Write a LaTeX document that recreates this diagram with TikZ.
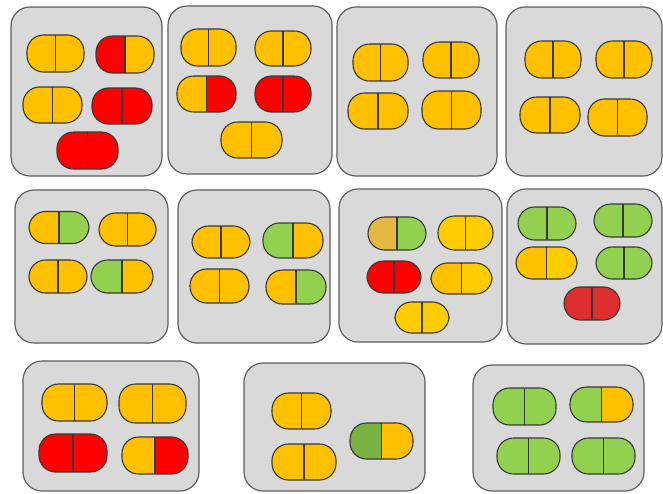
\documentclass[tikz,border=0pt]{standalone}
\usepackage{tikz}

\definecolor{trayfill}{HTML}{D9D9D9}
\definecolor{trayline}{HTML}{5E5E5E}
\definecolor{pillline}{HTML}{383838}
\definecolor{amber}{HTML}{FFC000}
\definecolor{gold}{HTML}{FFCC00}
\definecolor{mustard}{HTML}{E4B83E}
\definecolor{scarlet}{HTML}{FF0000}
\definecolor{brick}{HTML}{DC2E2E}
\definecolor{leaf}{HTML}{92D050}
\definecolor{moss}{HTML}{78B242}

\tikzset{
  tray/.style={fill=trayfill, draw=trayline, line width=1.2pt, rounded corners=19pt},
  pillrim/.style={draw=pillline, line width=1.1pt, rounded corners=16.5pt},
  pillcut/.style={draw=pillline, line width=1.1pt}
}

% \capsule{cx}{cy}{w}{h}{left colour}{right colour}
\newcommand{\capsule}[6]{%
  \begin{scope}
    \clip[rounded corners=16.5pt] ({#1-#3/2},{#2-#4/2}) rectangle ({#1+#3/2},{#2+#4/2});
    \fill[#5] ({#1-#3/2},{#2-#4/2}) rectangle (#1,{#2+#4/2});
    \fill[#6] (#1,{#2-#4/2}) rectangle ({#1+#3/2},{#2+#4/2});
  \end{scope}
  \draw[pillrim] ({#1-#3/2},{#2-#4/2}) rectangle ({#1+#3/2},{#2+#4/2});
  \draw[pillcut] (#1,{#2-#4/2}) -- (#1,{#2+#4/2});
}

\begin{document}
\begin{tikzpicture}[x=1pt, y=-1pt]
  \useasboundingbox (0,0) rectangle (663,493);

  % top row
  \draw[tray] (11,7) rectangle (162,176);
  \capsule{55.5}{53.5}{57}{37}{amber}{amber}
  \capsule{125}{54.5}{58}{37}{scarlet}{amber}
  \capsule{52.5}{105}{59}{36}{amber}{amber}
  \capsule{122}{106}{60}{36}{scarlet}{scarlet}
  \capsule{87.5}{150.5}{61}{37}{scarlet}{scarlet}

  \draw[tray] (168,6) rectangle (332,174);
  \capsule{208.5}{47.5}{55}{37}{amber}{amber}
  \capsule{283}{48.5}{56}{35}{amber}{amber}
  \capsule{206.5}{94}{59}{36}{amber}{scarlet}
  \capsule{283}{94}{56}{36}{scarlet}{scarlet}
  \capsule{251.5}{140}{61}{36}{amber}{amber}

  \draw[tray] (337,7) rectangle (497,176);
  \capsule{380.5}{62.5}{55}{37}{amber}{amber}
  \capsule{451}{60}{56}{36}{amber}{amber}
  \capsule{378}{111}{60}{36}{amber}{amber}
  \capsule{451.5}{110}{59}{38}{amber}{amber}

  \draw[tray] (506,7) rectangle (662,176);
  \capsule{553}{59.5}{56}{37}{amber}{amber}
  \capsule{624}{59.5}{56}{37}{amber}{amber}
  \capsule{550}{115}{60}{36}{amber}{amber}
  \capsule{617.5}{117.5}{59}{37}{amber}{amber}

  % middle row
  \draw[tray] (15,190) rectangle (168,343);
  \capsule{59}{227.5}{60}{32}{amber}{leaf}
  \capsule{127.5}{229.5}{57}{33}{amber}{amber}
  \capsule{58}{276.5}{58}{33}{amber}{amber}
  \capsule{122}{276.5}{62}{33}{leaf}{amber}

  \draw[tray] (178,190) rectangle (330,343);
  \capsule{221}{242}{58}{32}{amber}{amber}
  \capsule{293}{240.5}{60}{35}{leaf}{amber}
  \capsule{219.5}{286}{59}{34}{amber}{amber}
  \capsule{296}{287}{60}{34}{amber}{leaf}

  \draw[tray] (339,189) rectangle (502,342);
  \capsule{397}{233.5}{58}{33}{mustard}{leaf}
  \capsule{465.5}{233}{55}{34}{gold}{gold}
  \capsule{394}{277}{54}{32}{scarlet}{scarlet}
  \capsule{461.5}{278.5}{61}{31}{amber}{gold}
  \capsule{422}{317.5}{54}{31}{gold}{gold}

  \draw[tray] (507,189) rectangle (662,344);
  \capsule{547}{223.5}{58}{33}{leaf}{leaf}
  \capsule{623}{220.5}{58}{33}{leaf}{leaf}
  \capsule{546.5}{263}{61}{32}{amber}{gold}
  \capsule{624}{263}{56}{32}{leaf}{leaf}
  \capsule{592}{303.5}{56}{33}{brick}{brick}

  % bottom row
  \draw[tray] (23,361) rectangle (199,491);
  \capsule{74.5}{402.5}{65}{37}{amber}{amber}
  \capsule{152.5}{403.5}{67}{39}{amber}{amber}
  \capsule{73}{453}{68}{38}{scarlet}{scarlet}
  \capsule{155}{455.5}{66}{37}{amber}{scarlet}

  \draw[tray] (244,363) rectangle (425,491);
  \capsule{301.5}{411}{59}{36}{amber}{amber}
  \capsule{304}{462}{64}{36}{amber}{amber}
  \capsule{381.5}{441}{63}{36}{moss}{amber}

  \draw[tray] (473,365) rectangle (644,491);
  \capsule{524.5}{406.5}{63}{37}{leaf}{leaf}
  \capsule{601.5}{404.5}{63}{35}{leaf}{amber}
  \capsule{528.5}{456}{63}{36}{leaf}{leaf}
  \capsule{603.5}{456}{63}{36}{leaf}{leaf}
\end{tikzpicture}
\end{document}
